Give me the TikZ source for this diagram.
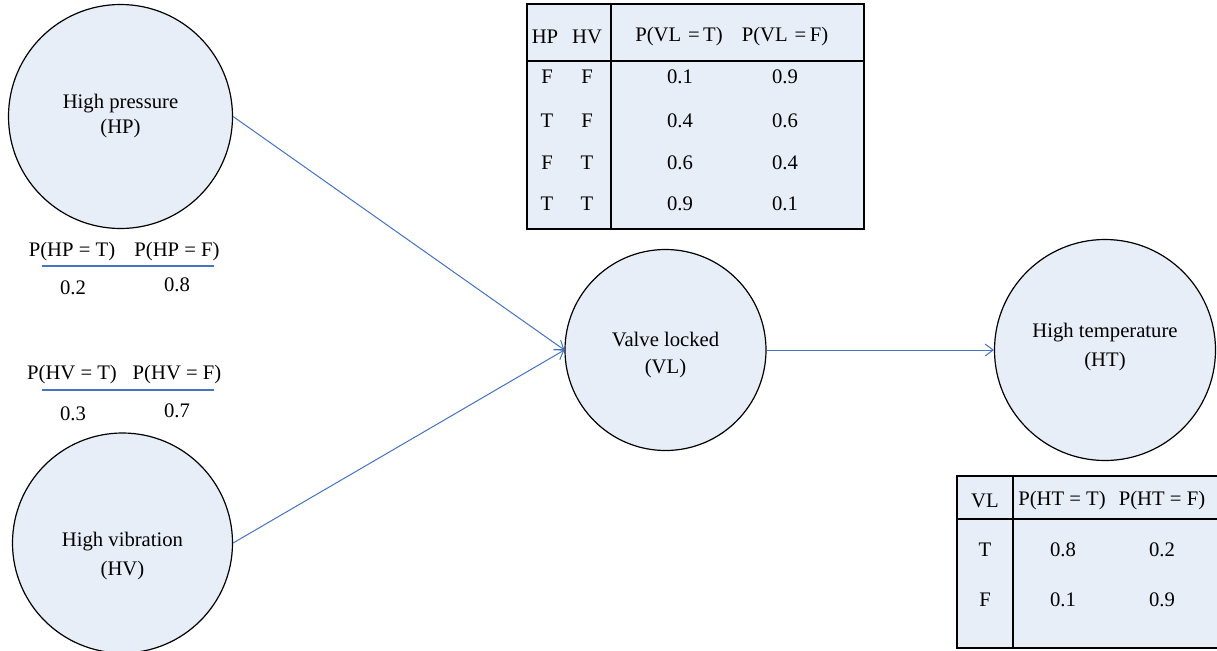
\documentclass[tikz,border=0pt]{standalone}
\usepackage{fontspec}
\setmainfont{Liberation Serif}
\usetikzlibrary{arrows.meta}
\definecolor{nodefill}{HTML}{E7EEF7}
\definecolor{linkblue}{HTML}{4472C4}
\begin{document}
\begin{tikzpicture}[x=0.75pt,y=-0.75pt,
  every node/.style={font=\fontsize{15.5pt}{18pt}\selectfont, inner sep=0pt},
  bnode/.style={circle, draw=black, line width=0.9pt, fill=nodefill, align=center},
  link/.style={draw=linkblue, line width=0.75pt, -{Straight Barb[length=6pt,width=9pt,line width=0.75pt]}},
  tbl/.style={draw=black, line width=0.9pt, fill=nodefill},
  tline/.style={draw=black, line width=0.9pt},
  uline/.style={draw=linkblue, line width=1pt}]
\useasboundingbox (0,0) rectangle (1217,650);

% nodes (sizes in pt: px * 0.75)
\node[bnode, minimum size=168pt] (HP) at (120.5,116.5) {};
\node at (120.5,104) (HPt1) {High pressure};
\node at (120.5,129) (HPt2) {(HP)};

\node[bnode, minimum size=165pt] (HV) at (122.5,543) {};
\node at (122.5,542) (HVt1) {High vibration};
\node at (122.5,571) (HVt2) {(HV)};

\node[bnode, minimum size=150.75pt] (VL) at (665.5,350) {};
\node at (665.5,339) (VLt1) {Valve locked};
\node at (665.5,369) (VLt2) {(VL)};

\node[bnode, minimum size=165.75pt] (HT) at (1105,350) {};
\node at (1105,333) (HTt1) {High temperature};
\node at (1105,362) (HTt2) {(HT)};

% connectors
\draw[link] (HP.east) -- (VL.west);
\draw[link] (HV.east) -- (VL.west);
\draw[link] (VL.east) -- (HT.west);

% prior HP
\node at (72,252) (php1) {P(HP = T)};
\node at (177,252) (php2) {P(HP = F)};
\draw[uline] (42,266) -- (214,266);
\node at (73,288) (php3) {0.2};
\node at (177,285) (php4) {0.8};

% prior HV
\node at (72,375) (phv1) {P(HV = T)};
\node at (177,375) (phv2) {P(HV = F)};
\draw[uline] (42,390) -- (214,390);
\node at (73,414) (phv3) {0.3};
\node at (177,411) (phv4) {0.7};

% CPT VL
\path[tbl] (527,4) rectangle (864,229);
\draw[tline] (527,61) -- (864,61);
\draw[tline] (611,4) -- (611,229);
\node at (545,37) {HP};
\node at (587,37) {HV};
\node at (679,37) {P(VL\,\,=\,T)};
\node at (785,37) {P(VL\,\,=\,F)};
\foreach \a/\b/\c/\d/\y in {F/F/0.1/0.9/77, T/F/0.4/0.6/121, F/T/0.6/0.4/163, T/T/0.9/0.1/204}{
  \node at (547,\y) {\a};
  \node at (587,\y) {\b};
  \node at (680,\y) {\c};
  \node at (785,\y) {\d};
}

% CPT HT
\path[fill=nodefill] (957,476) rectangle (1217,648);
\draw[tline] (1217,476) -- (957,476) -- (957,648) -- (1217,648);
\draw[tline] (957,519) -- (1217,519);
\draw[tline] (1013,476) -- (1013,648);
\node at (985,501) {VL};
\node at (1062,501) {P(HT = T)};
\node at (1162,501) {P(HT = F)};
\node at (985,550) {T};
\node at (1063,550) {0.8};
\node at (1162,550) {0.2};
\node at (985,600) {F};
\node at (1063,600) {0.1};
\node at (1162,600) {0.9};
\end{tikzpicture}
\end{document}
